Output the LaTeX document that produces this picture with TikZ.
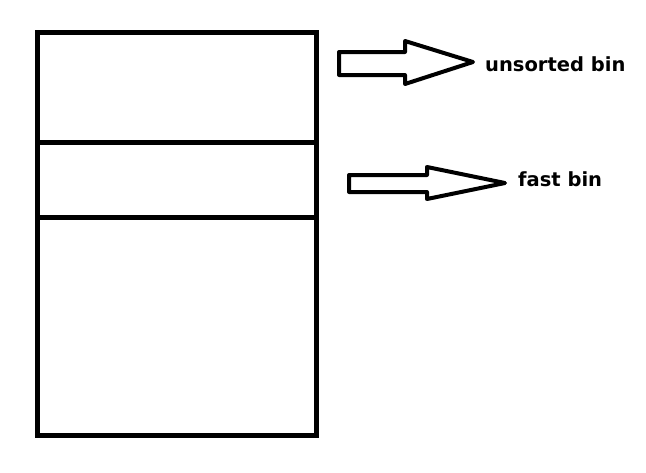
\documentclass[tikz,border=0pt]{standalone}
\usepackage{fontspec}
\setmainfont{DejaVu Sans}
\usepackage{tikz}

\begin{document}
\begin{tikzpicture}[x=1pt,y=-1pt]
		\useasboundingbox (0,0) rectangle (646,472);
		\draw [line width=5pt] (37.5,32.5) rectangle (316.5,435);
		\draw [line width=5pt] (37.5,142.5) -- (316.5,142.5);
		\draw [line width=5pt] (37.5,217.5) -- (316.5,217.5);
		
		\node [anchor=base west, inner sep=0pt, font=\bfseries\fontsize{19.5}{22}\selectfont] (unsorted) at (485,71) {unsorted bin};
		\node [anchor=base west, inner sep=0pt, font=\bfseries\fontsize{19.5}{22}\selectfont] (fast) at (518,186.5) {fast bin};
		
		\draw [line width=4pt, line join=round] (339,52) -- (405,52) -- (405,41) -- (473,62) -- (405,84) -- (405,75) -- (339,75) -- cycle;
		\draw [line width=4pt, line join=round] (349,175) -- (427,175) -- (427,167) -- (505,183) -- (427,199) -- (427,192) -- (349,192) -- cycle;
	\end{tikzpicture}
\end{document}
